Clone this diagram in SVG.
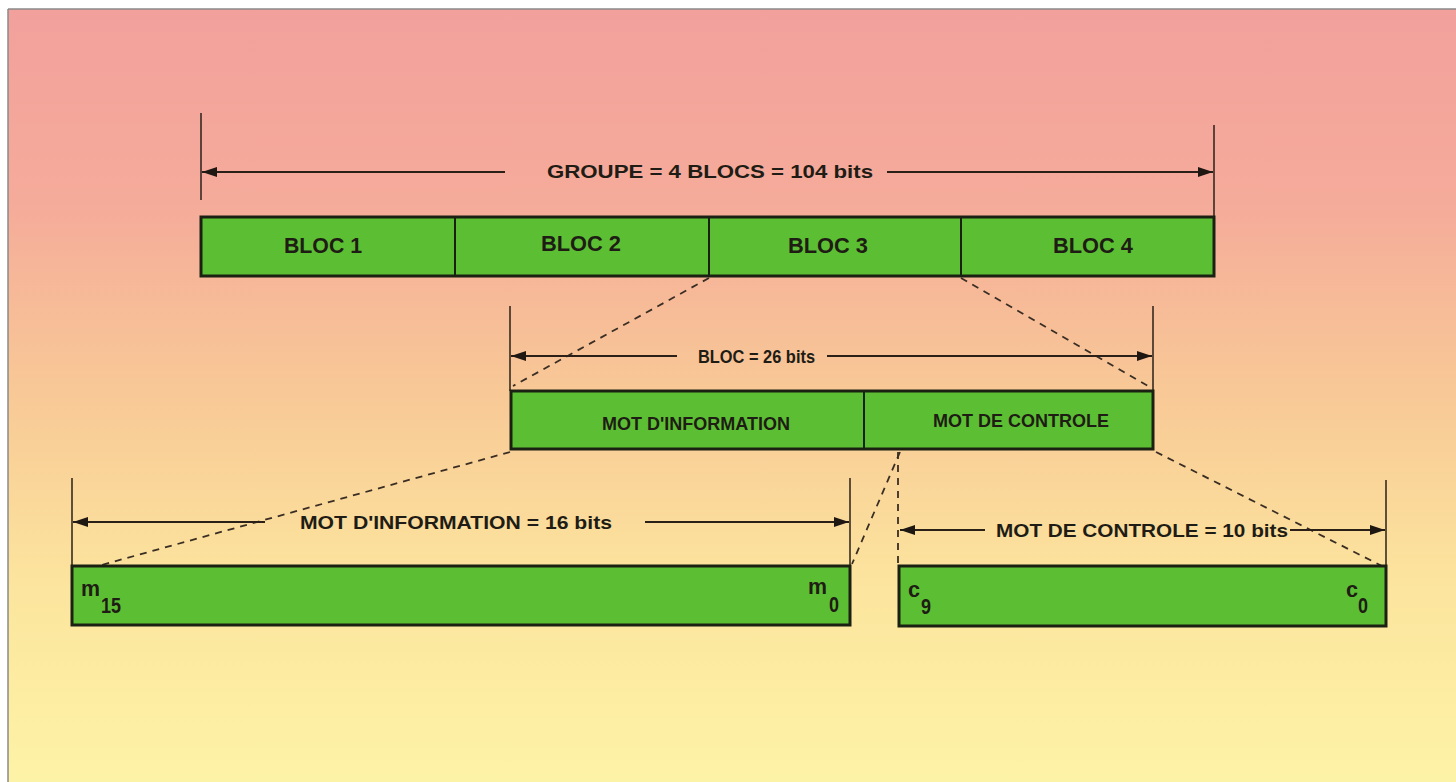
<svg xmlns="http://www.w3.org/2000/svg" width="1456" height="782" viewBox="0 0 1456 782">
<defs>
<linearGradient id="bg" x1="0" y1="0" x2="0" y2="1">
<stop offset="0" stop-color="#f2a09c"/>
<stop offset="0.25" stop-color="#f5ab9a"/>
<stop offset="0.5" stop-color="#f8c996"/>
<stop offset="0.75" stop-color="#fce59e"/>
<stop offset="1" stop-color="#fdf3a6"/>
</linearGradient>
<marker id="ah" viewBox="0 0 15 10" refX="15" refY="5" markerWidth="15" markerHeight="10" markerUnits="userSpaceOnUse" orient="auto-start-reverse">
<path d="M0,0 L15,5 L0,10 Z" fill="#1f1812"/>
</marker>
<style>
.bar{fill:#5cbf33;stroke:#1a2012;stroke-width:3}
.div{stroke:#1a2012;stroke-width:2}
.tick{stroke:#2a2018;stroke-width:1.5}
.dim{stroke:#2a2018;stroke-width:2;fill:none}
.dash{stroke:#3a2e24;stroke-width:1.8;stroke-dasharray:7 6;fill:none}
.t{font-family:"Liberation Sans",Arial,sans-serif;font-weight:bold;fill:#1e1c14}
.lab{font-size:19px}
.blk{font-size:22px}
.in{font-size:18px}
.sym{font-size:22px}
</style>
</defs>
<rect x="0" y="0" width="1456" height="782" fill="#ffffff"/>
<rect x="8" y="9" width="1448" height="773" fill="url(#bg)"/>
<line x1="8" y1="9" x2="1456" y2="9" stroke="#8a8a8a" stroke-width="1.5"/>
<line x1="8" y1="9" x2="8" y2="782" stroke="#8a8a8a" stroke-width="1.5"/>

<g id="connectors">
<line class="dash" x1="709" y1="278" x2="513" y2="386"/>
<line class="dash" x1="961" y1="278" x2="1148" y2="386"/>
<line class="dash" x1="510" y1="452" x2="98" y2="566"/>
<line class="dash" x1="900" y1="452" x2="852" y2="564"/>
<line class="dash" x1="898" y1="452" x2="898" y2="566"/>
<line class="dash" x1="1156" y1="452" x2="1382" y2="566"/>
</g>

<g id="dim-groupe">
<line class="tick" x1="201" y1="113" x2="201" y2="200"/>
<line class="tick" x1="1214" y1="125" x2="1214" y2="218"/>
<line class="dim" x1="505" y1="172" x2="202" y2="172" marker-end="url(#ah)"/>
<line class="dim" x1="887" y1="172" x2="1213" y2="172" marker-end="url(#ah)"/>
<text class="t lab" x="547" y="178" textLength="326" lengthAdjust="spacingAndGlyphs">GROUPE  =  4 BLOCS  = 104  bits</text>
</g>

<g id="groupe">
<rect class="bar" x="201" y="217" width="1013" height="59"/>
<line class="div" x1="455" y1="217" x2="455" y2="276"/>
<line class="div" x1="709" y1="217" x2="709" y2="276"/>
<line class="div" x1="961" y1="217" x2="961" y2="276"/>
<text class="t blk" x="284" y="253" textLength="78" lengthAdjust="spacingAndGlyphs">BLOC  1</text>
<text class="t blk" x="541" y="251" textLength="80" lengthAdjust="spacingAndGlyphs">BLOC  2</text>
<text class="t blk" x="788" y="253" textLength="80" lengthAdjust="spacingAndGlyphs">BLOC  3</text>
<text class="t blk" x="1053" y="253" textLength="80" lengthAdjust="spacingAndGlyphs">BLOC  4</text>
</g>

<g id="dim-bloc">
<line class="tick" x1="510" y1="306" x2="510" y2="391"/>
<line class="tick" x1="1153" y1="306" x2="1153" y2="391"/>
<line class="dim" x1="677" y1="356" x2="511" y2="356" marker-end="url(#ah)"/>
<line class="dim" x1="827" y1="356" x2="1152" y2="356" marker-end="url(#ah)"/>
<text class="t lab" x="698" y="363" textLength="117" lengthAdjust="spacingAndGlyphs">BLOC  = 26 bits</text>
</g>

<g id="bloc">
<rect class="bar" x="511" y="391" width="642" height="58"/>
<line class="div" x1="864" y1="391" x2="864" y2="449"/>
<text class="t in" x="602" y="430" textLength="188" lengthAdjust="spacingAndGlyphs">MOT D'INFORMATION</text>
<text class="t in" x="933" y="427" textLength="176" lengthAdjust="spacingAndGlyphs">MOT DE CONTROLE</text>
</g>

<g id="dim-info">
<line class="tick" x1="72" y1="478" x2="72" y2="566"/>
<line class="tick" x1="850" y1="478" x2="850" y2="566"/>
<line class="dim" x1="265" y1="522" x2="73" y2="522" marker-end="url(#ah)"/>
<line class="dim" x1="645" y1="522" x2="849" y2="522" marker-end="url(#ah)"/>
<text class="t lab" x="300" y="529" textLength="312" lengthAdjust="spacingAndGlyphs">MOT D'INFORMATION  = 16 bits</text>
</g>

<g id="info">
<rect class="bar" x="72" y="566" width="778" height="59"/>
<text class="t sym" x="81" y="596" textLength="19" lengthAdjust="spacingAndGlyphs">m</text>
<text class="t sym" x="101" y="613" textLength="20" lengthAdjust="spacingAndGlyphs">15</text>
<text class="t sym" x="808" y="594" textLength="19" lengthAdjust="spacingAndGlyphs">m</text>
<text class="t sym" x="829" y="612" textLength="10" lengthAdjust="spacingAndGlyphs">0</text>
</g>

<g id="dim-ctrl">
<line class="tick" x1="1386" y1="480" x2="1386" y2="566"/>
<line class="dim" x1="985" y1="530" x2="900" y2="530" marker-end="url(#ah)"/>
<line class="dim" x1="1290" y1="530" x2="1385" y2="530" marker-end="url(#ah)"/>
<text class="t lab" x="996" y="537" textLength="292" lengthAdjust="spacingAndGlyphs">MOT DE CONTROLE = 10 bits</text>
</g>

<g id="ctrl">
<rect class="bar" x="899" y="566" width="487" height="60"/>
<text class="t sym" x="908" y="597" textLength="12" lengthAdjust="spacingAndGlyphs">c</text>
<text class="t sym" x="921" y="614" textLength="10" lengthAdjust="spacingAndGlyphs">9</text>
<text class="t sym" x="1346" y="597" textLength="12" lengthAdjust="spacingAndGlyphs">c</text>
<text class="t sym" x="1358" y="613" textLength="10" lengthAdjust="spacingAndGlyphs">0</text>
</g>
</svg>
